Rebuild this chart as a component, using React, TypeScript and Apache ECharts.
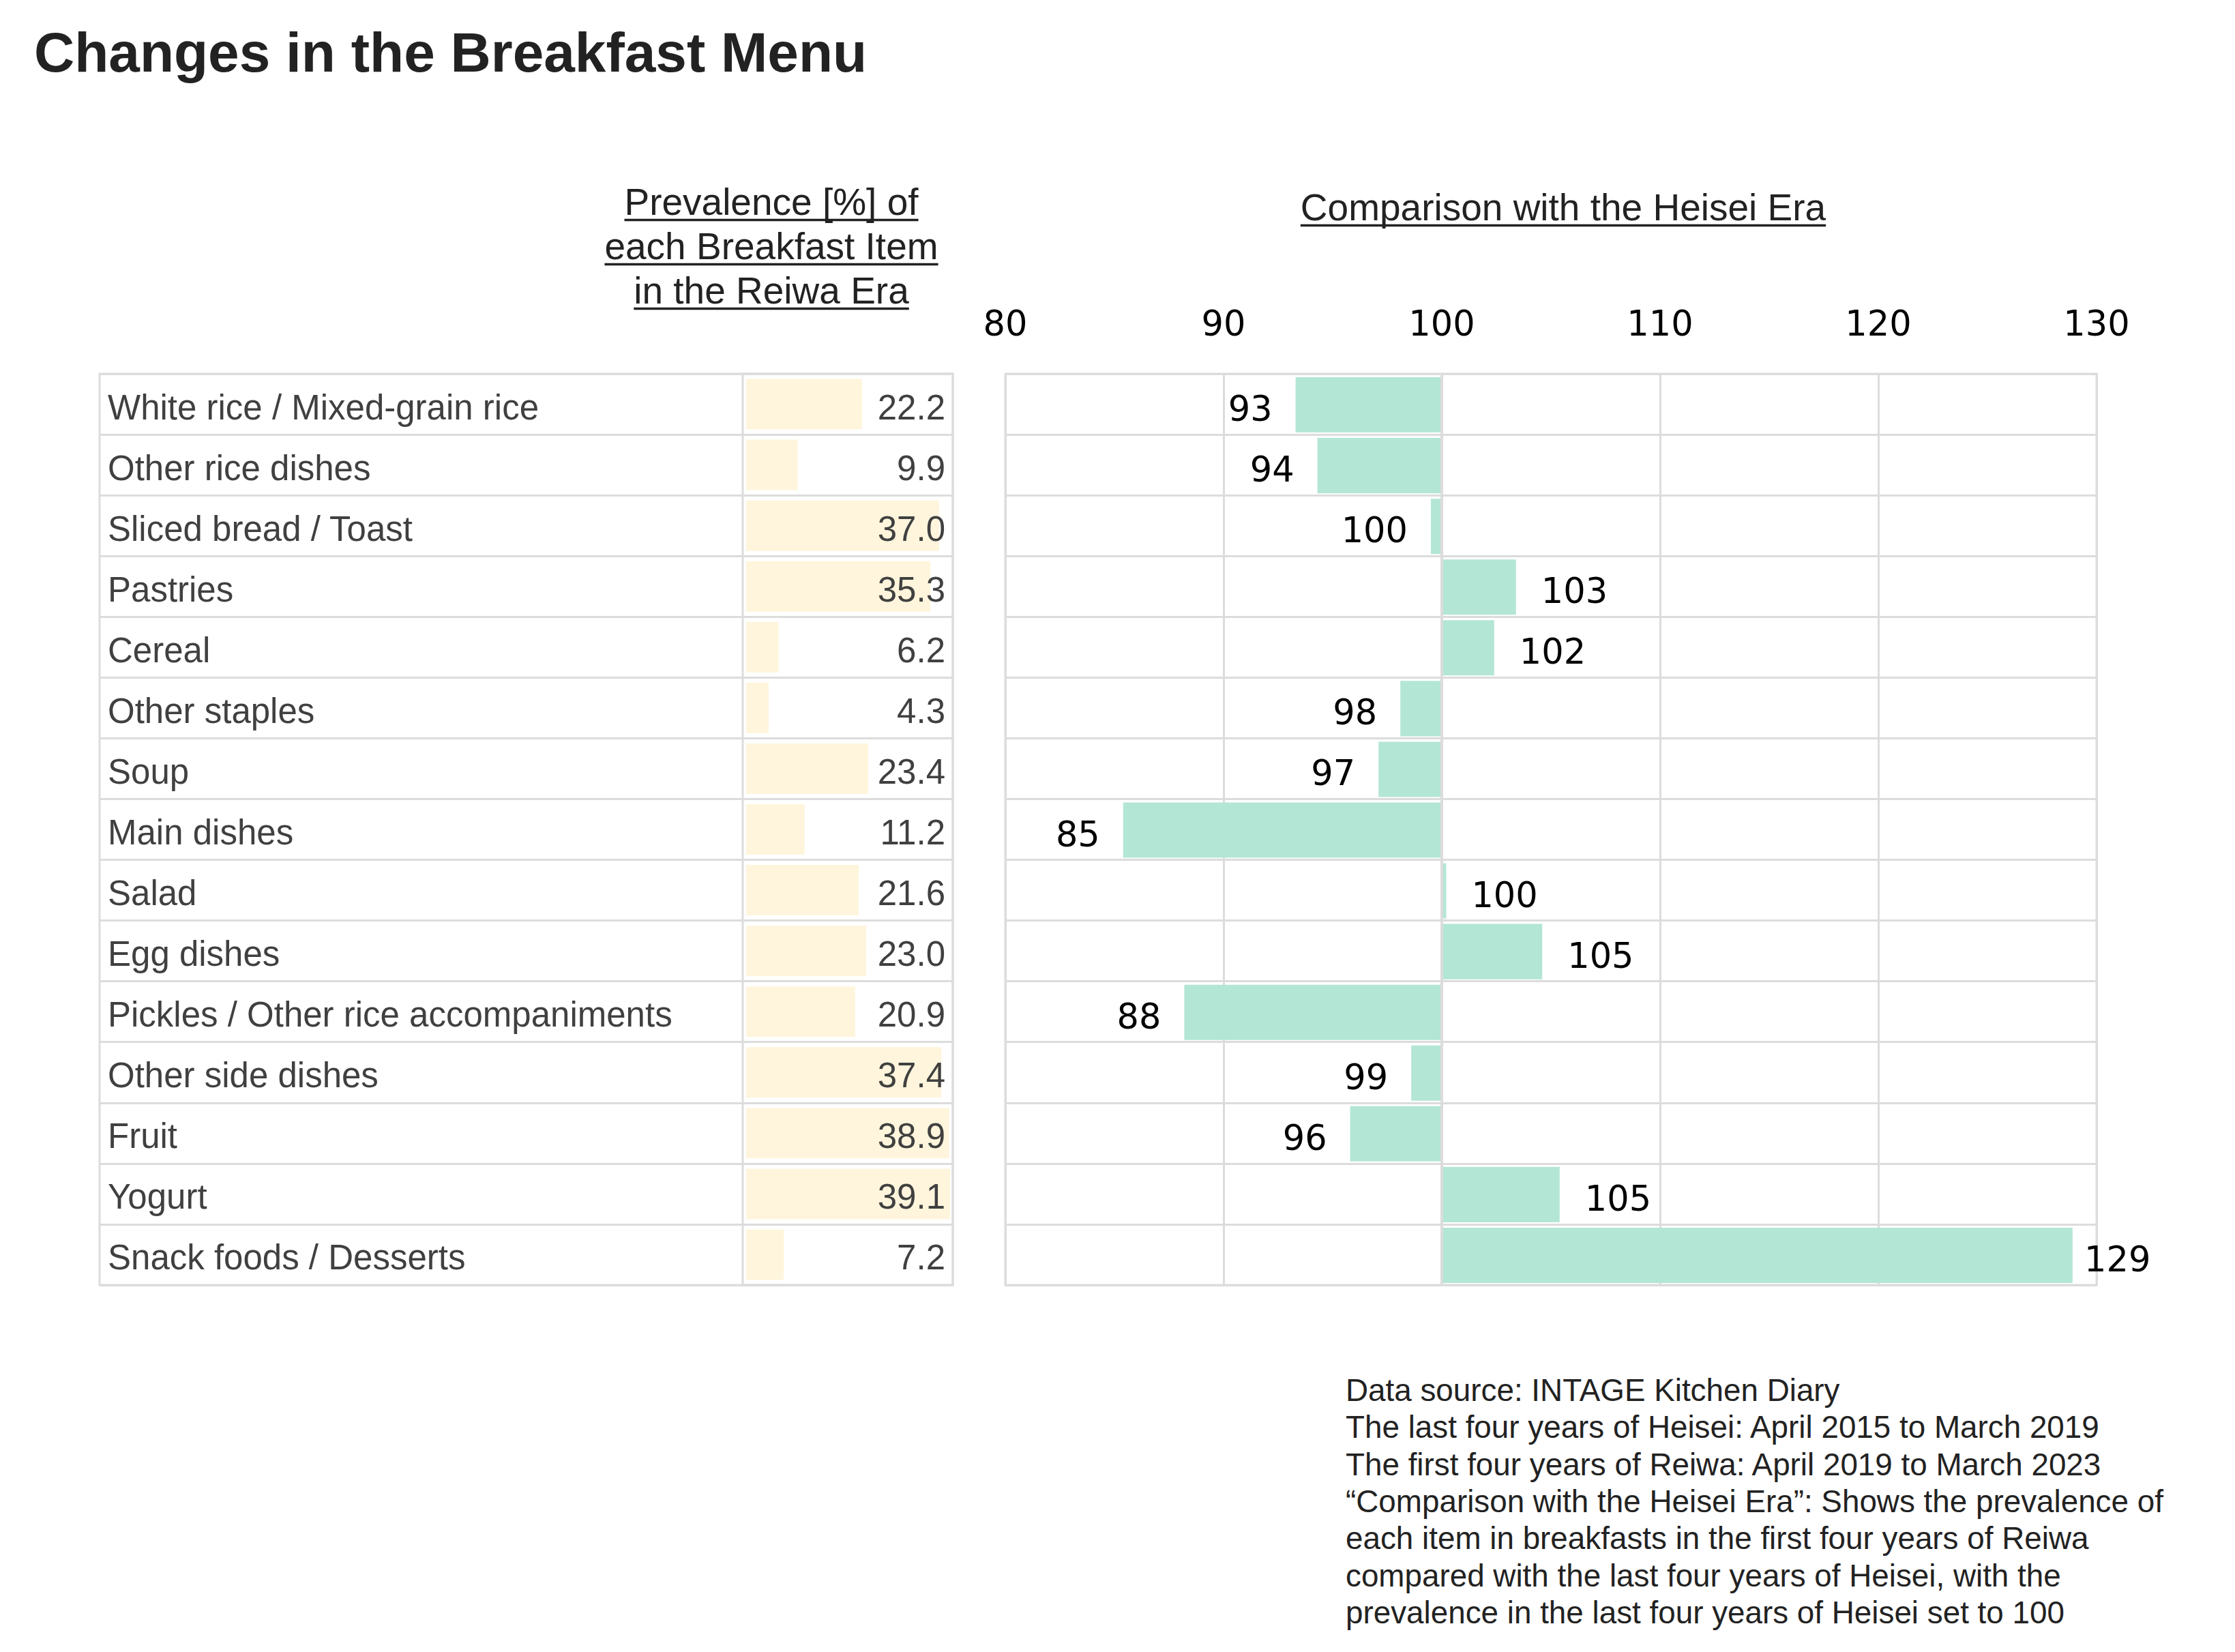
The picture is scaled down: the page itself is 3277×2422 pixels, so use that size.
import React, { useEffect, useRef } from "react";
import * as echarts from "echarts";

// ---------- data ----------
const categories = [
  "White rice / Mixed-grain rice",
  "Other rice dishes",
  "Sliced bread / Toast",
  "Pastries",
  "Cereal",
  "Other staples",
  "Soup",
  "Main dishes",
  "Salad",
  "Egg dishes",
  "Pickles / Other rice accompaniments",
  "Other side dishes",
  "Fruit",
  "Yogurt",
  "Snack foods / Desserts",
];
// Prevalence [%] of each breakfast item in the Reiwa era
const prevalenceReiwa = [22.2, 9.9, 37.0, 35.3, 6.2, 4.3, 23.4, 11.2, 21.6, 23.0, 20.9, 37.4, 38.9, 39.1, 7.2];
// Comparison with the Heisei era (Heisei = 100)
const heiseiComparison = [93.3, 94.3, 99.5, 103.4, 102.4, 98.1, 97.1, 85.4, 100.2, 104.6, 88.2, 98.6, 95.8, 105.4, 128.9];
const comparisonTicks = [80, 90, 100, 110, 120, 130];
const comparisonBase = 100;

const titleText = "Changes in the Breakfast Menu";
const leftHeaderLines = ["Prevalence [%] of", "each Breakfast Item", "in the Reiwa Era"];
const rightHeaderText = "Comparison with the Heisei Era";
const footnoteLines = [
  "Data source: INTAGE Kitchen Diary",
  "The last four years of Heisei: April 2015 to March 2019",
  "The first four years of Reiwa: April 2019 to March 2023",
  "\u201CComparison with the Heisei Era\u201D: Shows the prevalence of",
  "each item in breakfasts in the first four years of Reiwa",
  "compared with the last four years of Heisei, with the",
  "prevalence in the last four years of Heisei set to 100",
];

// ---------- styles ----------
const SANS = "'Liberation Sans', Arial, sans-serif";
const NUM = "'DejaVu Sans', Verdana, sans-serif";
const LINE = "#DCDCDC";
const CREAM = "#FEF5DC";
const MINT = "#B3E6D5";
const INK = "#222222";

function measure(text: string, font: string): number {
  const ctx = document.createElement("canvas").getContext("2d");
  if (!ctx) return text.length * 25;
  ctx.font = font;
  return ctx.measureText(text).width;
}

export default function App() {
  const ref = useRef<HTMLDivElement>(null);

  useEffect(() => {
    if (!ref.current) return;
    const chart = echarts.init(ref.current, undefined, { renderer: "svg" });

    const tableTop = 548;
    const tableHeight = 1336;

    const headerFontSize = 55;
    const headerFont = `${headerFontSize}px 'Liberation Sans'`;
    const leftHeaderX = 1131;
    const leftHeaderY = [296, 361, 426];
    const rightHeaderX = 2292;
    const rightHeaderY = 304;
    const ulOffset = 26.5;

    const rowTextRich = {
      t: {
        fontSize: 51,
        fontFamily: SANS,
        color: "#404040",
        padding: [9, 0, 0, 0],
      },
    };

    const graphics: any[] = [];
    graphics.push({
      type: "text",
      x: 50,
      y: 76,
      silent: true,
      style: {
        text: titleText,
        fontSize: 82,
        fontWeight: "bold",
        fontFamily: SANS,
        fill: INK,
        align: "left",
        verticalAlign: "middle",
      },
    });
    leftHeaderLines.forEach((t, i) => {
      const w = measure(t, headerFont);
      graphics.push({
        type: "text",
        x: leftHeaderX,
        y: leftHeaderY[i],
        silent: true,
        style: { text: t, fontSize: headerFontSize, fontFamily: SANS, fill: INK, align: "center", verticalAlign: "middle" },
      });
      graphics.push({
        type: "line",
        silent: true,
        shape: { x1: leftHeaderX - w / 2, y1: leftHeaderY[i] + ulOffset, x2: leftHeaderX + w / 2, y2: leftHeaderY[i] + ulOffset },
        style: { stroke: INK, lineWidth: 3.5 },
      });
    });
    {
      const w = measure(rightHeaderText, headerFont);
      graphics.push({
        type: "text",
        x: rightHeaderX,
        y: rightHeaderY,
        silent: true,
        style: { text: rightHeaderText, fontSize: headerFontSize, fontFamily: SANS, fill: INK, align: "center", verticalAlign: "middle" },
      });
      graphics.push({
        type: "line",
        silent: true,
        shape: { x1: rightHeaderX - w / 2, y1: rightHeaderY + ulOffset, x2: rightHeaderX + w / 2, y2: rightHeaderY + ulOffset },
        style: { stroke: INK, lineWidth: 3.5 },
      });
    }
    graphics.push({
      type: "text",
      x: 1973,
      y: 2011,
      silent: true,
      style: {
        text: footnoteLines.join("\n"),
        fontSize: 45.8,
        lineHeight: 54.4,
        fontFamily: SANS,
        fill: INK,
        align: "left",
        verticalAlign: "top",
      },
    });

    const option: any = {
      animation: false,
      backgroundColor: "#ffffff",
      grid: [
        { left: 146, top: tableTop, width: 1251, height: tableHeight, show: true, borderColor: LINE, borderWidth: 3, backgroundColor: "transparent" },
        { left: 1089, top: tableTop, width: 308, height: tableHeight, show: true, borderColor: LINE, borderWidth: 3, backgroundColor: "transparent" },
        { left: 1474, top: tableTop, width: 1600, height: tableHeight, show: true, borderColor: LINE, borderWidth: 3, backgroundColor: "transparent" },
      ],
      xAxis: [
        { gridIndex: 0, type: "value", show: false, min: 0, max: 1 },
        { gridIndex: 1, type: "value", show: false, min: -0.65, max: 39.6 },
        {
          gridIndex: 2,
          type: "value",
          position: "top",
          min: comparisonTicks[0],
          max: comparisonTicks[comparisonTicks.length - 1],
          interval: comparisonTicks[1] - comparisonTicks[0],
          axisLine: { show: false },
          axisTick: { show: false },
          axisLabel: {
            show: true,
            fontSize: 51,
            fontFamily: NUM,
            color: "#000000",
            margin: 74,
            verticalAlign: "middle",
          },
          splitLine: { show: true, lineStyle: { color: LINE, width: 3 } },
        },
      ],
      yAxis: [
        {
          gridIndex: 0,
          type: "category",
          inverse: true,
          data: categories,
          axisLine: { show: false },
          axisTick: { show: false },
          axisLabel: {
            inside: true,
            interval: 0,
            margin: 12,
            fontSize: 51,
            fontFamily: SANS,
            color: "#404040",
            formatter: (v: string) => `{t|${v}}`,
            rich: rowTextRich,
          },
          splitLine: { show: true, interval: 0, lineStyle: { color: LINE, width: 3 } },
        },
        {
          gridIndex: 1,
          type: "category",
          inverse: true,
          position: "right",
          z: 10,
          data: categories,
          axisLine: { show: false },
          axisTick: { show: false },
          axisLabel: {
            inside: true,
            interval: 0,
            margin: 11,
            fontSize: 51,
            fontFamily: SANS,
            color: "#404040",
            formatter: (_v: string, i: number) => `{t|${prevalenceReiwa[i].toFixed(1)}}`,
            rich: rowTextRich,
          },
          splitLine: { show: false },
        },
        {
          gridIndex: 2,
          type: "category",
          inverse: true,
          data: categories,
          axisLine: { show: false },
          axisTick: { show: false },
          axisLabel: { show: false },
          splitLine: { show: true, interval: 0, lineStyle: { color: LINE, width: 3 } },
        },
      ],
      series: [
        {
          type: "bar",
          xAxisIndex: 1,
          yAxisIndex: 1,
          data: prevalenceReiwa,
          barWidth: 74,
          z: 2,
          silent: true,
          itemStyle: { color: CREAM },
          label: { show: false },
        },
        {
          type: "custom",
          xAxisIndex: 2,
          yAxisIndex: 2,
          silent: true,
          clip: false,
          encode: { x: 0, y: 1 },
          data: heiseiComparison.map((v, i) => [v, i]),
          renderItem: (_params: any, api: any) => {
            const v = api.value(0);
            const c = api.value(1);
            const p0 = api.coord([comparisonBase, c]);
            const p1 = api.coord([v, c]);
            const pEnd = api.coord([comparisonTicks[comparisonTicks.length - 1], c]);
            const band = api.size([0, 1])[1];
            const h = band * 0.91;
            const x = Math.min(p0[0], p1[0]);
            const w = Math.abs(p1[0] - p0[0]);
            const up = v >= comparisonBase;
            const labelX = up ? Math.min(p1[0] + 37, pEnd[0] - 18) : p1[0] - 34;
            return {
              type: "group",
              children: [
                {
                  type: "rect",
                  shape: { x, y: p0[1] - h / 2 + 1, width: w, height: h },
                  style: { fill: MINT },
                },
                {
                  type: "line",
                  shape: { x1: p0[0], y1: p0[1] - band / 2, x2: p0[0], y2: p0[1] + band / 2 },
                  style: { stroke: LINE, lineWidth: 4 },
                },
                {
                  type: "text",
                  x: labelX,
                  y: p0[1] + 7,
                  style: {
                    text: String(Math.round(v)),
                    fontSize: 51,
                    fontFamily: NUM,
                    fill: "#000000",
                    align: up ? "left" : "right",
                    verticalAlign: "middle",
                  },
                },
              ],
            };
          },
        },
      ],
      graphic: { elements: graphics },
    };

    chart.setOption(option);
    return () => chart.dispose();
  }, []);

  return (
    <div
      ref={ref}
      style={{ position: "absolute", left: 0, top: 0, width: 3277, height: 2422, background: "#fff" }}
    />
  );
}
